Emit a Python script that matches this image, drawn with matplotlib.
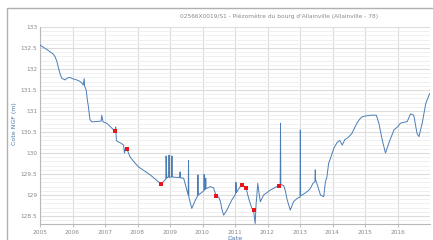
import matplotlib.pyplot as plt
from matplotlib.patches import Rectangle
from matplotlib.ticker import MultipleLocator

# water level series (decimal year, level in m NGF)
years = [
    2005.00, 2005.10, 2005.20, 2005.31, 2005.40, 2005.46, 2005.52, 2005.56, 2005.62, 2005.67,
    2005.72, 2005.77, 2005.85, 2005.92, 2006.00, 2006.13, 2006.22, 2006.28, 2006.33, 2006.36,
    2006.37, 2006.42, 2006.46, 2006.49, 2006.52, 2006.54, 2006.60, 2006.75, 2006.88, 2006.90,
    2006.94, 2007.05, 2007.15, 2007.25, 2007.31, 2007.33, 2007.35, 2007.40, 2007.50, 2007.57,
    2007.60, 2007.63, 2007.67, 2007.77, 2007.88, 2008.03, 2008.39, 2008.73, 2008.85, 2008.87,
    2008.88, 2008.90, 2008.91, 2008.96, 2008.97, 2008.98, 2009.05, 2009.06, 2009.07, 2009.20,
    2009.30, 2009.31, 2009.32, 2009.42, 2009.52, 2009.56, 2009.57, 2009.58, 2009.67, 2009.78,
    2009.85, 2009.86, 2009.87, 2010.04, 2010.05, 2010.06, 2010.09, 2010.10, 2010.11, 2010.24,
    2010.34, 2010.42, 2010.50, 2010.55, 2010.60, 2010.65, 2010.70, 2010.75, 2010.90, 2011.00,
    2011.02, 2011.03, 2011.04, 2011.06, 2011.16, 2011.21, 2011.30, 2011.34, 2011.42, 2011.52,
    2011.57, 2011.62, 2011.65, 2011.67, 2011.70, 2011.73, 2011.78, 2011.88, 2012.09, 2012.29,
    2012.34, 2012.39, 2012.40, 2012.41, 2012.45, 2012.50, 2012.55, 2012.60, 2012.70, 2012.80,
    2012.91, 2013.00, 2013.01, 2013.02, 2013.11, 2013.25, 2013.32, 2013.40, 2013.46, 2013.47,
    2013.48, 2013.55, 2013.63, 2013.73, 2013.78, 2013.83, 2013.88, 2013.94, 2014.04, 2014.14,
    2014.22, 2014.30, 2014.38, 2014.45, 2014.52, 2014.60, 2014.68, 2014.76, 2014.85, 2014.91,
    2015.00, 2015.17, 2015.35, 2015.43, 2015.53, 2015.63, 2015.73, 2015.89, 2016.00, 2016.09,
    2016.30, 2016.40, 2016.50, 2016.60, 2016.66, 2016.76, 2016.87, 2016.97, 2017.00,
]
levels = [
    132.57, 132.52, 132.47, 132.41, 132.36, 132.30, 132.18, 132.05, 131.88, 131.78,
    131.76, 131.74, 131.79, 131.80, 131.77, 131.74, 131.71, 131.67, 131.62, 131.77,
    131.60, 131.50, 131.25, 131.10, 130.90, 130.79, 130.74, 130.75, 130.76, 130.90,
    130.74, 130.71, 130.64, 130.56, 130.53, 130.62, 130.30, 130.27, 130.23, 130.19,
    130.00, 130.12, 130.10, 129.91, 129.80, 129.67, 129.48, 129.26, 129.36, 129.38,
    129.93, 129.40, 129.42, 129.43, 129.95, 129.42, 129.43, 129.93, 129.43, 129.42,
    129.42, 129.55, 129.41, 129.40, 129.12, 129.00, 129.82, 128.95, 128.68, 128.88,
    128.98, 129.48, 129.00, 129.10, 129.49, 129.12, 129.14, 129.40, 129.15, 129.20,
    129.17, 128.98, 128.95, 128.85, 128.65, 128.52, 128.58, 128.64, 128.88, 129.00,
    129.04, 129.30, 129.06, 129.08, 129.20, 129.25, 129.20, 129.17, 128.92, 128.68,
    128.64, 128.32, 128.80, 128.96, 129.28, 129.10, 128.84, 129.00, 129.12, 129.20,
    129.21, 129.23, 130.71, 129.25, 129.24, 129.22, 129.10, 128.90, 128.64, 128.84,
    128.92, 128.95, 130.55, 128.98, 129.02, 129.10, 129.16, 129.28, 129.32, 129.60,
    129.36, 129.20, 129.00, 128.96, 129.30, 129.44, 129.75, 129.88, 130.11, 130.25,
    130.30, 130.19, 130.32, 130.35, 130.40, 130.47, 130.60, 130.72, 130.82, 130.86,
    130.88, 130.90, 130.90, 130.70, 130.31, 130.00, 130.23, 130.55, 130.62, 130.71,
    130.75, 130.93, 130.90, 130.47, 130.39, 130.71, 131.18, 131.38, 131.42,
]

# manual measurements (red squares)
meas_years = [2007.31, 2007.67, 2008.73, 2010.42, 2011.21, 2011.34, 2011.57, 2012.34]
meas_levels = [130.53, 130.10, 129.26, 128.98, 129.25, 129.17, 128.64, 129.21]

year_ticks = list(range(2005, 2017))
level_ticks = [128.5, 129, 129.5, 130, 130.5, 131, 131.5, 132, 132.5, 133]

title = "02566X0019/S1 - Piézomètre du bourg d'Allainville (Allainville - 78)"

line_color = "#4a7db5"
grid_color = "#dcdcdc"
text_color = "#8a8a8a"
label_color = "#4d7aa8"

fig = plt.figure(figsize=(4.33, 2.40), dpi=100)
# outer panel border (cut off at right and bottom like the screenshot)
fig.patches.append(Rectangle((7 / 433, -0.1), 1.2, 1.1 - 8 / 240,
                             transform=fig.transFigure, fill=False,
                             edgecolor="#b0b0b0", linewidth=1.0))

ax = fig.add_axes([40 / 433, 16 / 240, 390 / 433, 197 / 240])

ax.plot(years, levels, color=line_color, linewidth=0.7, zorder=3)
ax.scatter(meas_years, meas_levels, marker="s", s=5, color="#e8141b",
           linewidths=0, zorder=4)

ax.set_xlim(2005, 2017.0)
ax.set_ylim(128.31, 133.0)
ax.set_xticks(year_ticks)
ax.set_xticklabels([str(y) for y in year_ticks])
ax.set_yticks(level_ticks)
ax.set_yticklabels([f"{v:g}" for v in level_ticks])
ax.yaxis.set_minor_locator(MultipleLocator(0.1))

ax.grid(True, which="major", color=grid_color, linewidth=0.8)
ax.grid(True, which="minor", axis="y", color="#eeeeee", linewidth=0.6)
ax.set_axisbelow(True)

for side in ["top", "right"]:
    ax.spines[side].set_visible(False)
for side in ["left", "bottom"]:
    ax.spines[side].set_color("#b8b8b8")
    ax.spines[side].set_linewidth(0.8)

ax.tick_params(axis="both", which="both", labelsize=4.2, colors=text_color,
               length=0, pad=2)
ax.tick_params(axis="x", length=2, color="#c0c0c0")

ax.set_ylabel("Cote NGF (m)", fontsize=4.5, color=label_color)
ax.yaxis.set_label_coords(-0.06, 0.51)
ax.set_xlabel("Date", fontsize=4.5, color=label_color)
ax.xaxis.set_label_coords(0.5, -0.062)

fig.text(0.645, 1 - 16 / 240, title, fontsize=4.2, color=text_color,
         ha="center", va="center")

fig.savefig("out.png", dpi=100)
